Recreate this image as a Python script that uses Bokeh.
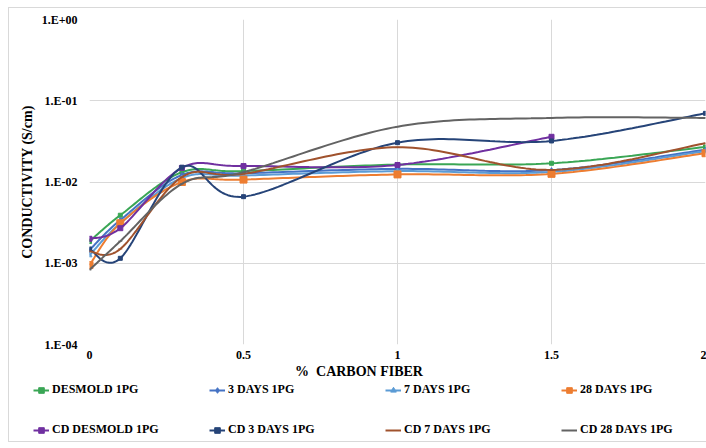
import numpy as np
from bokeh.plotting import figure
from bokeh.layouts import column
from bokeh.models import (Legend, LegendItem, CustomJSTickFormatter, FixedTicker,
                          ColumnDataSource, Range1d)
from bokeh.embed import file_html
from bokeh.resources import INLINE

# ---------------- data ----------------
fiber = [0, 0.1, 0.3, 0.5, 1.0, 1.5, 2.0]
nan = float("nan")
desmold_1pg    = [1.85e-3, 3.9e-3, 1.32e-2, 1.36e-2, 1.64e-2, 1.70e-2, 2.70e-2]
days3_1pg      = [1.45e-3, 3.4e-3, 1.22e-2, 1.28e-2, 1.45e-2, 1.40e-2, 2.50e-2]
days7_1pg      = [1.25e-3, 3.1e-3, 1.12e-2, 1.20e-2, 1.36e-2, 1.33e-2, 2.40e-2]
days28_1pg     = [9.5e-4, 3.1e-3, 1.00e-2, 1.07e-2, 1.24e-2, 1.26e-2, 2.26e-2]
cd_desmold_1pg = [2.0e-3, 2.7e-3, 1.49e-2, 1.57e-2, 1.62e-2, 3.60e-2, nan]
cd_3days_1pg   = [1.5e-3, 1.15e-3, 1.52e-2, 6.6e-3, 3.05e-2, 3.20e-2, 7.00e-2]
cd_7days_1pg   = [1.4e-3, 1.5e-3, 1.15e-2, 1.26e-2, 2.68e-2, 1.41e-2, 3.00e-2]
cd_28days_1pg  = [8.3e-4, 1.87e-3, 9.5e-3, 1.32e-2, 4.80e-2, 6.15e-2, 6.15e-2]

series_names = ["DESMOLD 1PG", "3 DAYS 1PG", "7 DAYS 1PG", "28 DAYS 1PG",
                "CD DESMOLD 1PG", "CD 3 DAYS 1PG", "CD 7 DAYS 1PG", "CD 28 DAYS 1PG"]
series_values = [desmold_1pg, days3_1pg, days7_1pg, days28_1pg,
                 cd_desmold_1pg, cd_3days_1pg, cd_7days_1pg, cd_28days_1pg]
y_ticks = [1e-4, 1e-3, 1e-2, 1e-1, 1.0]
x_ticks = [0, 0.5, 1, 1.5, 2]
x_tick_labels = ["0", "0.5", "1", "1.5", "2"]

# ---------------- styles ----------------
colors = ["#3aa655", "#4472c4", "#5b9bd5", "#ed7d31",
          "#7030a0", "#264478", "#a0522d", "#636363"]
markers = ["square", "diamond", "triangle", "square", "square", "square", "dash", "dash"]
msizes = [4, 5, 5, 7, 5, 4, 4, 4]

FONT = "Liberation Serif"


def smooth(xs, ys, n=30):
    """Excel-style smoothed line (cubic Bezier, 1/6 tangents) in (x, log10 y) space."""
    pts = np.array([(x, np.log10(y)) for x, y in zip(xs, ys) if not np.isnan(y)])
    ox, oy = [pts[0, 0]], [pts[0, 1]]
    t = np.linspace(0, 1, n + 1)[1:]
    for i in range(len(pts) - 1):
        p0 = pts[i - 1] if i > 0 else pts[i]
        p1, p2 = pts[i], pts[i + 1]
        p3 = pts[i + 2] if i + 2 < len(pts) else pts[i + 1]
        c1 = p1 + (p2 - p0) / 6.0
        c2 = p2 - (p3 - p1) / 6.0
        b = ((1 - t) ** 3)[:, None] * p1 + (3 * (1 - t) ** 2 * t)[:, None] * c1 \
            + (3 * (1 - t) * t ** 2)[:, None] * c2 + (t ** 3)[:, None] * p2
        ox.extend(b[:, 0]); oy.extend(b[:, 1])
    return np.array(ox), 10 ** np.array(oy)


TOP_H = 383
p = figure(width=706, height=TOP_H, output_backend="svg", toolbar_location=None,
           y_axis_type="log", x_range=Range1d(0, 2), y_range=Range1d(1e-4, 1.0),
           min_border_left=89, min_border_right=1, min_border_top=19,
           min_border_bottom=TOP_H - 344)
p.outline_line_color = None
p.background_fill_color = "white"
p.border_fill_alpha = 0

p.xaxis.ticker = FixedTicker(ticks=x_ticks, minor_ticks=[])
p.xaxis.major_label_overrides = {t: l for t, l in zip(x_ticks, x_tick_labels)}
p.yaxis.ticker = FixedTicker(ticks=y_ticks, minor_ticks=[])
p.yaxis.formatter = CustomJSTickFormatter(code="""
const e = Math.round(Math.log10(tick));
const s = e < 0 ? '-' : '+';
return '1.E' + s + String(Math.abs(e)).padStart(2, '0');
""")
for ax in (p.xaxis, p.yaxis):
    ax.axis_line_color = None
    ax.major_tick_line_color = None
    ax.minor_tick_line_color = None
    ax.major_tick_out = 0
    ax.major_tick_in = 0
    ax.major_label_text_font = FONT
    ax.major_label_text_font_style = "bold"
    ax.major_label_text_font_size = "12px"
    ax.major_label_text_color = "black"
    ax.axis_label_text_font = FONT
    ax.axis_label_text_font_style = "bold"
    ax.axis_label_text_font_size = "14px"
    ax.axis_label_text_color = "black"
p.xaxis.major_label_standoff = 6
p.yaxis.major_label_standoff = 12
p.yaxis.axis_label = "CONDUCTIVITY (S/cm)"
p.yaxis.axis_label_standoff = 4
# trailing no-break spaces shift the centred title left, as in the reference
p.xaxis.axis_label = "%\u00a0 CARBON FIBER" + "\u00a0" * 22
p.xaxis.axis_label_standoff = 2

p.grid.grid_line_color = "#d9d9d9"
p.grid.grid_line_width = 1
p.xgrid.ticker = FixedTicker(ticks=x_ticks)
p.ygrid.ticker = FixedTicker(ticks=y_ticks)

# legend strip (separate figure below the chart)
LEG_H = 448 - TOP_H
pl = figure(width=706, height=LEG_H, output_backend="svg", toolbar_location=None,
            x_range=Range1d(0, 1), y_range=Range1d(0, 1),
            min_border_left=0, min_border_right=0, min_border_top=0, min_border_bottom=0,
            x_axis_location=None, y_axis_location=None)
pl.outline_line_color = None
pl.grid.visible = False
pl.border_fill_alpha = 0
pl.background_fill_alpha = 0

items = []
for name, vals, c, m, s in zip(series_names, series_values, colors, markers, msizes):
    sx, sy = smooth(fiber, vals)
    p.line(sx, sy, line_color=c, line_width=2)
    mask = [not np.isnan(v) for v in vals]
    src = ColumnDataSource(dict(x=[x for x, k in zip(fiber, mask) if k],
                                y=[v for v, k in zip(vals, mask) if k]))
    p.scatter("x", "y", source=src, marker=m, size=s, fill_color=c, line_color=c)
    # legend proxies (kept outside the visible range of the legend strip)
    lr = pl.line([-5, -4], [-5, -5], line_color=c, line_width=2)
    sr = pl.scatter([-5], [-5], marker=m, size=s, fill_color=c, line_color=c)
    items.append(LegendItem(label=name, renderers=[lr, sr]))

# legend grid is filled column by column: reorder so it reads row by row
order = [0, 4, 1, 5, 2, 6, 3, 7]
legend = Legend(items=[items[i] for i in order], ncols=4, location=(33, 11),
                label_text_font=FONT, label_text_font_style="bold",
                label_text_font_size="12px", label_text_color="black",
                glyph_width=16, glyph_height=14, label_height=14, label_width=132,
                label_standoff=3, spacing=25, padding=0, margin=0,
                border_line_color=None, background_fill_alpha=0)
pl.add_layout(legend, "center")

# nest the strip in its own column so its frame is not aligned with the chart frame
layout = column(p, column(pl, spacing=0), spacing=0)
# light grey chart-area border (top, left, bottom) painted behind the transparent canvases
g = "linear-gradient(#d9d9d9,#d9d9d9)"
layout.styles = {
    "background": f"{g} 8px 7px / 1px 435px no-repeat, "
                  f"{g} 8px 7px / 698px 1px no-repeat, "
                  f"{g} 8px 441px / 698px 1px no-repeat, white"
}
open("out.html", "w").write(file_html(layout, INLINE))
